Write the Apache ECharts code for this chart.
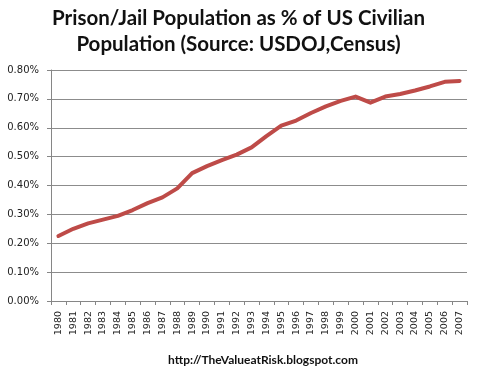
<!DOCTYPE html>
<html>
<head>
<meta charset="utf-8">
<script src="https://cdn.jsdelivr.net/npm/echarts@6/dist/echarts.min.js"></script>
<style>html,body{margin:0;padding:0;background:#fff;}#c{width:477px;height:371px;}</style>
</head>
<body>
<div id="c"></div>
<script>
const titleText = "Prison/Jail Population as % of US Civilian\nPopulation (Source: USDOJ,Census)";
const footerText = "http://TheValueatRisk.blogspot.com";
const years = ["1980","1981","1982","1983","1984","1985","1986","1987","1988","1989","1990","1991","1992","1993","1994","1995","1996","1997","1998","1999","2000","2001","2002","2003","2004","2005","2006","2007"];
const pctValues = [0.225,0.250,0.269,0.282,0.295,0.315,0.339,0.359,0.390,0.443,0.467,0.488,0.507,0.532,0.571,0.607,0.625,0.651,0.674,0.693,0.708,0.687,0.708,0.717,0.729,0.743,0.759,0.762];
const yTicks = [0.00,0.10,0.20,0.30,0.40,0.50,0.60,0.70,0.80];

const chart = echarts.init(document.getElementById('c'), null, {renderer:'canvas'});
chart.setOption({
  animation:false,
  backgroundColor:'#ffffff',
  title:[{
    text:titleText,
    left:'center', top:0,
    textStyle:{fontFamily:'Lato', fontWeight:'bold', fontSize:20.5, color:'#111', lineHeight:26}
  },{
    text:footerText,
    left:258, textAlign:'center', top:349,
    textStyle:{fontFamily:'Lato', fontWeight:'bold', fontSize:12, color:'#111'}
  }],
  grid:{left:51, right:10, top:70, bottom:70, containLabel:false},
  xAxis:{
    type:'category', data:years, boundaryGap:true,
    axisLine:{lineStyle:{color:'#868686', width:1}},
    axisTick:{show:true, alignWithLabel:false, length:4, lineStyle:{color:'#868686'}},
    axisLabel:{rotate:90, fontFamily:'DejaVu Sans', fontSize:9.5, color:'#222', margin:10, interval:0}
  },
  yAxis:{
    type:'value', min:0, max:0.8, interval:0.1,
    axisLine:{show:true, lineStyle:{color:'#868686', width:1}},
    axisTick:{show:true, length:4, lineStyle:{color:'#868686'}},
    splitLine:{show:true, lineStyle:{color:'#8c8c8c', width:1}},
    axisLabel:{fontFamily:'DejaVu Sans', fontSize:10, color:'#222', margin:12,
      formatter:function(v){ return v.toFixed(2)+'%'; }}
  },
  series:[{
    type:'line', data:pctValues, symbol:'none', smooth:false,
    lineStyle:{color:'#BE4B48', width:4, cap:'round', join:'round'}
  }]
});
</script>
</body>
</html>
